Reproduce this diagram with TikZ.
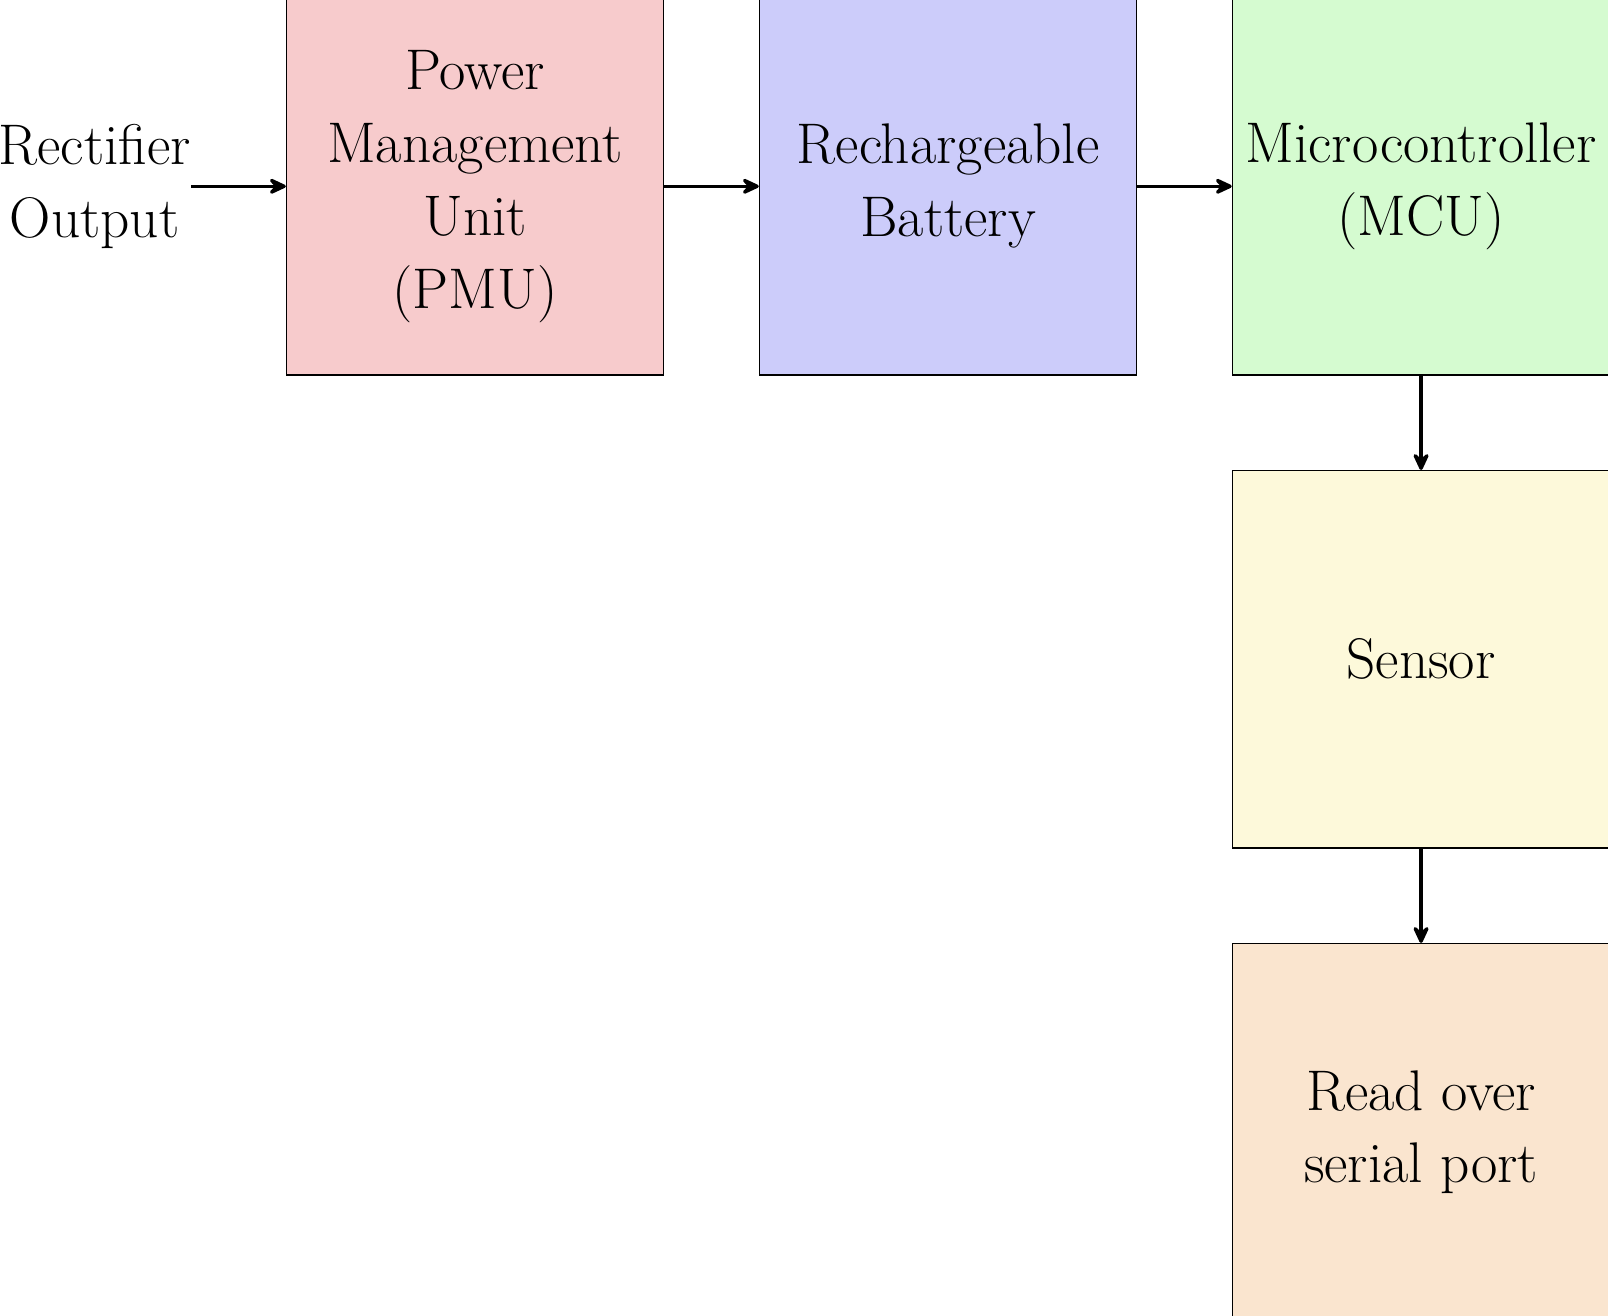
\documentclass[tikz,border=0pt]{standalone}
\usepackage{xcolor}
\usepackage{tikz}
\usetikzlibrary{arrows.meta,positioning}

\definecolor{pmupink}{HTML}{F7CBCC}
\definecolor{battblue}{HTML}{CCCCFA}
\definecolor{mcugreen}{HTML}{D5FBD0}
\definecolor{sensyellow}{HTML}{FDF9DA}
\definecolor{readorange}{HTML}{FAE5CF}

\begin{document}
\begin{tikzpicture}[
  block/.style={draw,minimum width=4cm,minimum height=4cm,font=\LARGE,align=center},
  pmu/.style={block,fill=pmupink},
  batt/.style={block,fill=battblue},
  mcu/.style={block,fill=mcugreen},
  sens/.style={block,fill=sensyellow},
  serial/.style={block,fill=readorange},
  link/.style={-{Stealth[length=7pt,width=6.5pt,inset=3pt,round]},line width=1pt},
  node distance=1cm]

\useasboundingbox (-5.037,1.975) rectangle (12.01,-11.976);

\node[pmu]    (pmu)  at (0,0)                 {Power\\Management\\Unit\\(PMU)};
\node[font=\LARGE,align=center,inner sep=0pt,left=1cm of pmu] (rect) {Rectifier\\Output};
\node[batt]   (batt) [right=of pmu]           {Rechargeable\\Battery};
\node[mcu]    (mcu)  [right=of batt]          {Microcontroller\\(MCU)};
\node[sens]   (sens) [below=of mcu]           {Sensor};
\node[serial] (read) [below=of sens]          {Read over\\serial port};

\draw[link] (rect) -- (pmu);
\draw[link] (pmu)  -- (batt);
\draw[link] (batt) -- (mcu);
\draw[link] (mcu)  -- (sens);
\draw[link] (sens) -- (read);
\end{tikzpicture}
\end{document}
